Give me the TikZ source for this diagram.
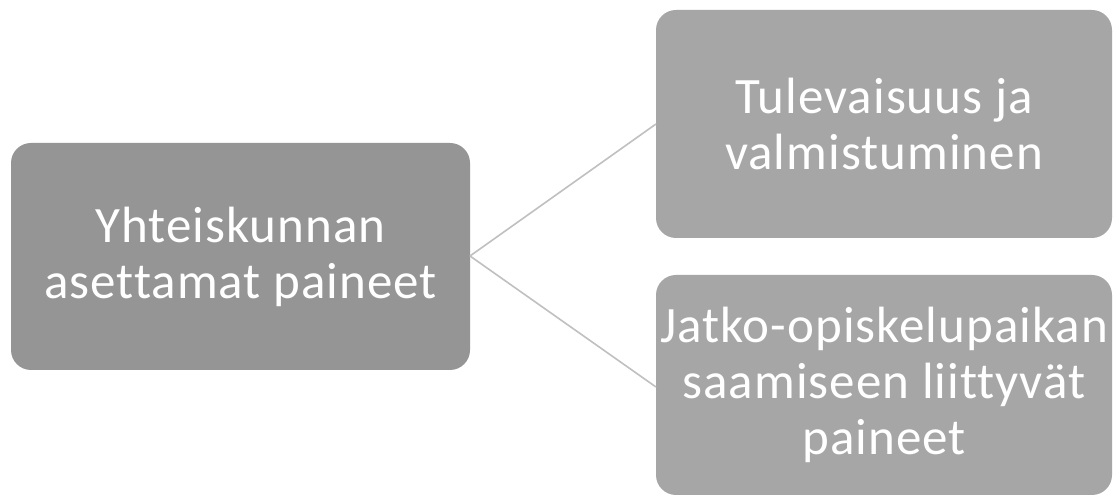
\documentclass[tikz,border=0pt]{standalone}
\usepackage{fontspec}
\setmainfont{Carlito}[LetterSpace=2,Ligatures=NoCommon]
\begin{document}
\begin{tikzpicture}[x=1pt,y=1pt,
  boxL/.style={fill=boxdark, rounded corners=20pt, draw=none},
  boxR/.style={fill=boxlight, rounded corners=20pt, draw=none},
  lbl/.style={text=white, align=center, font=\fontsize{51}{56}\selectfont},
  conn/.style={draw=linegray, line width=1.6pt}]
\definecolor{boxdark}{HTML}{959595}
\definecolor{boxlight}{HTML}{A6A6A6}
\definecolor{linegray}{HTML}{C0C0C0}
\useasboundingbox (0,0) rectangle (1114,497);
\fill[white] (0,0) rectangle (1114,497);
\path[boxL] (11,127) rectangle (470,354);
\path[boxR] (656,259) rectangle (1112,487);
\path[boxR] (656,2) rectangle (1112,222);
\node[lbl] (a) at (240.5,240.5) {Yhteiskunnan\\asettamat paineet};
\node[lbl] (b) at (884,373) {Tulevaisuus ja\\valmistuminen};
\node[lbl] (c) at (884,112) {Jatko-opiskelupaikan\\saamiseen liittyvät\\paineet};
\coordinate (o) at (470,241);
\coordinate (t) at (656,373);
\coordinate (u) at (656,110);
\draw[conn] (o) -- (t);
\draw[conn] (o) -- (u);
\end{tikzpicture}
\end{document}
